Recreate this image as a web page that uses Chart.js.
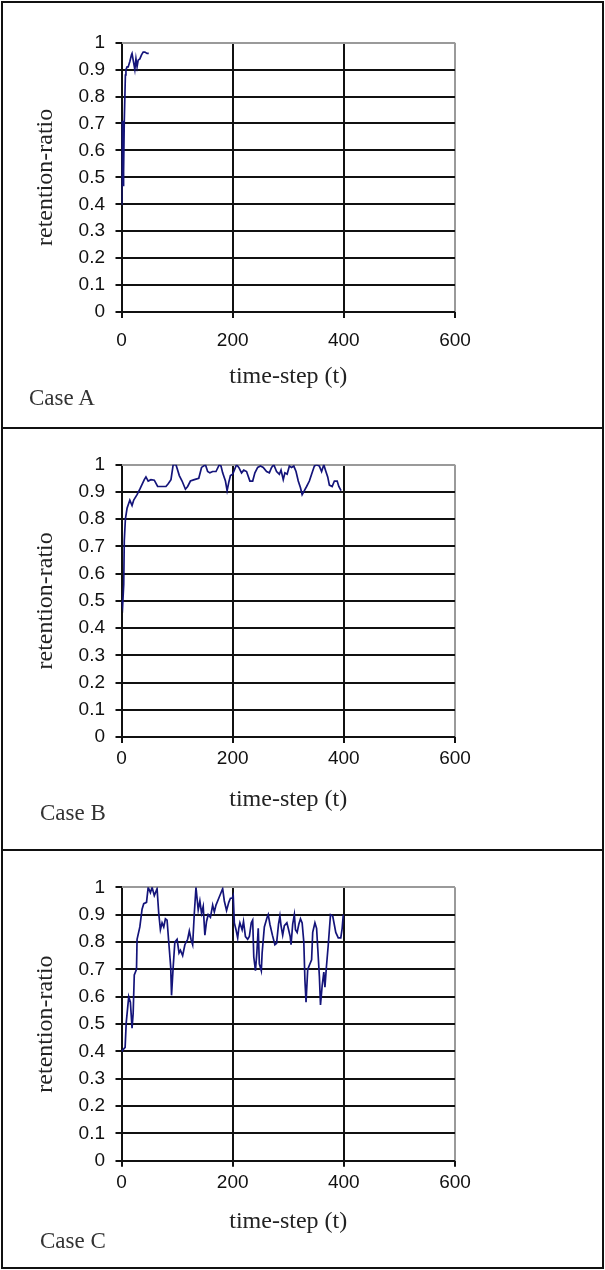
<!DOCTYPE html>
<html>
<head>
<meta charset="utf-8">
<script src="https://cdn.jsdelivr.net/npm/chart.js@4/dist/chart.umd.min.js"></script>
<style>
  html, body { margin: 0; padding: 0; background: #fff; }
  #page { position: relative; width: 605px; height: 1270px; overflow: hidden; }
  .frame { position: absolute; left: 1px; top: 1px; width: 599px; height: 1264px; border: 2px solid #111; }
  .divider { position: absolute; left: 1px; width: 603px; height: 2px; background: #111; }
  canvas { position: absolute; left: 0; }
  .case { position: absolute; font-family: 'Liberation Serif', 'Times New Roman', serif; font-size: 23px; color: #333; line-height: 1; }
</style>
</head>
<body>
<div id="page"></div>
<script>
/* ── data ── */
const xTicks = [0, 200, 400, 600];
const yTicks = [0, 0.1, 0.2, 0.3, 0.4, 0.5, 0.6, 0.7, 0.8, 0.9, 1];

// Case A
const tA   = [0, 0.5, 1, 1.5, 2, 2.5, 3, 3.5, 4, 5,
              6, 7, 8, 10, 12, 15, 18, 19, 21.5, 24,
              26, 28, 30, 33, 36, 39, 42, 46, 49];
const retA = [0.40, 0.71, 0.47, 0.71, 0.49, 0.70, 0.47, 0.71, 0.52, 0.71,
              0.71, 0.88, 0.90, 0.91, 0.91, 0.93, 0.955, 0.96, 0.93, 0.90,
              0.94, 0.91, 0.935, 0.94, 0.955, 0.965, 0.965, 0.96, 0.96];

// Case B
const tB   = [0, 2, 4, 5, 7, 10, 15, 19, 22, 28,
              33, 41, 44, 48, 53, 59, 65, 73, 80, 84,
              89, 93, 98, 104, 109, 115, 119, 124, 131, 139,
              144, 151, 155, 159, 164, 170, 176, 179, 182, 187,
              190, 193, 196, 200, 203, 207, 211, 216, 220, 225,
              231, 236, 240, 245, 250, 255, 261, 266, 270, 274,
              279, 284, 287, 291, 294, 298, 302, 306, 310, 314,
              318, 322, 325, 329, 333, 338, 342, 347, 351, 356,
              360, 364, 367, 371, 374, 379, 383, 388, 391, 395];
const retB = [0.50, 0.48, 0.56, 0.72, 0.80, 0.84, 0.87, 0.85, 0.87, 0.89,
              0.91, 0.945, 0.955, 0.94, 0.945, 0.943, 0.92, 0.92, 0.92, 0.93,
              0.945, 1.0, 1.0, 0.96, 0.94, 0.91, 0.92, 0.94, 0.945, 0.95,
              0.99, 1.0, 0.975, 0.97, 0.975, 0.975, 1.0, 0.995, 0.97, 0.94,
              0.905, 0.935, 0.96, 0.965, 0.98, 1.0, 0.99, 0.97, 0.98, 0.975,
              0.94, 0.94, 0.97, 0.99, 0.995, 0.99, 0.975, 0.97, 0.99, 1.0,
              0.975, 0.965, 0.98, 0.945, 0.97, 0.965, 0.995, 0.99, 0.995, 0.975,
              0.94, 0.915, 0.89, 0.905, 0.92, 0.94, 0.965, 0.995, 1.0, 0.995,
              0.975, 1.0, 0.98, 0.955, 0.925, 0.92, 0.94, 0.94, 0.92, 0.905];

// Case C
const tC   = [0, 6.5, 8.5, 13, 16, 19, 21, 23, 27, 28,
              33, 37, 40, 45, 48, 52, 55, 59, 64, 67,
              70, 73, 76, 79, 82, 85, 88.5, 90, 93, 96,
              100, 103.5, 106, 110, 114, 119, 122, 125, 128, 131,
              134, 138, 141, 144, 147, 150, 153, 156, 160, 164,
              167, 170, 175, 179, 182, 185, 189, 193, 196, 199,
              201, 203, 206, 209, 211, 213, 217, 219.5, 223, 227,
              230, 233.5, 236, 238, 241, 243.5, 246, 248, 251.5, 253,
              257, 262, 264, 267, 271.5, 276, 279, 282.5, 285, 287,
              290, 293, 297.5, 300, 303.5, 305, 308, 311, 313, 316,
              319, 322, 325, 328, 330, 332, 335, 338, 342, 344,
              348, 351, 353, 356, 358, 361, 364, 366, 368.5, 372,
              376, 380, 385.5, 390, 394.5, 397, 399];
const retC = [0.40, 0.415, 0.505, 0.60, 0.58, 0.485, 0.54, 0.68, 0.70, 0.81,
              0.855, 0.92, 0.94, 0.945, 1.0, 0.98, 1.0, 0.97, 0.995, 0.905,
              0.845, 0.87, 0.855, 0.885, 0.88, 0.80, 0.71, 0.605, 0.71, 0.80,
              0.81, 0.76, 0.77, 0.75, 0.79, 0.81, 0.84, 0.81, 0.79, 0.905,
              1.0, 0.917, 0.95, 0.905, 0.93, 0.825, 0.875, 0.90, 0.89, 0.935,
              0.91, 0.935, 0.96, 0.98, 0.995, 0.95, 0.915, 0.945, 0.96, 0.96,
              0.97, 0.87, 0.845, 0.815, 0.85, 0.87, 0.845, 0.875, 0.82, 0.81,
              0.82, 0.87, 0.88, 0.745, 0.695, 0.76, 0.85, 0.72, 0.695, 0.76,
              0.855, 0.89, 0.90, 0.865, 0.825, 0.79, 0.795, 0.865, 0.895, 0.86,
              0.825, 0.86, 0.87, 0.85, 0.82, 0.79, 0.865, 0.90, 0.845, 0.835,
              0.865, 0.885, 0.87, 0.80, 0.66, 0.58, 0.70, 0.715, 0.735, 0.835,
              0.87, 0.85, 0.78, 0.675, 0.57, 0.64, 0.69, 0.635, 0.705, 0.79,
              0.90, 0.895, 0.835, 0.815, 0.815, 0.85, 0.90];

/* ── layout of the three panels (page pixels) ── */
const W = 605;
const PLOT_LEFT = 121.5, PLOT_RIGHT = 455;
const LINE = '#14147a';
const BLACK = '#111';
const GREY = '#9a9a9a';
const TICK_FONT = { family: "'Liberation Sans', Arial, sans-serif", size: 19 };
const TITLE_FONT = { family: "'Liberation Serif', 'Times New Roman', serif", size: 24, lineHeight: 1.2 };

const panels = [
  { name: 'Case A', t: tA, v: retA, top: 0,   h: 428, plotTop: 42.7, plotBottom: 312,   tickY: 340.7, titleY: 377, caseX: 29, caseY: 386 },
  { name: 'Case B', t: tB, v: retB, top: 428, h: 422, plotTop: 36.7, plotBottom: 309,   tickY: 331,   titleY: 372, caseX: 40, caseY: 373 },
  { name: 'Case C', t: tC, v: retC, top: 850, h: 420, plotTop: 37.3, plotBottom: 310.8, tickY: 333,   titleY: 372, caseX: 40, caseY: 379 },
];

function buildPanel(p) {
  const page = document.getElementById('page');
  const canvas = document.createElement('canvas');
  canvas.width = W;
  canvas.height = p.h;
  canvas.style.top = p.top + 'px';
  page.appendChild(canvas);

  const label = document.createElement('div');
  label.className = 'case';
  label.textContent = p.name;
  label.style.left = p.caseX + 'px';
  label.style.top = (p.top + p.caseY) + 'px';
  page.appendChild(label);

  const titleLH = TITLE_FONT.size * TITLE_FONT.lineHeight;
  const tickLH = TICK_FONT.size * 1.2;
  const tickLen = 6;

  const points = p.t.map((t, i) => ({ x: t, y: p.v[i] }));

  new Chart(canvas, {
    type: 'line',
    data: {
      datasets: [{
        data: points,
        borderColor: LINE,
        borderWidth: 1.7,
        pointRadius: 0,
        tension: 0,
        fill: false,
      }],
    },
    options: {
      responsive: false,
      animation: false,
      events: [],
      layout: { padding: { top: p.plotTop, right: W - PLOT_RIGHT, bottom: 0, left: 0 } },
      plugins: { legend: { display: false }, tooltip: { enabled: false } },
      scales: {
        x: {
          type: 'linear',
          min: 0, max: 600,
          afterBuildTicks: s => { s.ticks = xTicks.map(v => ({ value: v })); },
          afterFit: s => { s.height = p.h - p.plotBottom; },
          ticks: {
            font: TICK_FONT,
            color: BLACK,
            padding: p.tickY - p.plotBottom - tickLen - tickLH / 2,
            maxRotation: 0,
          },
          grid: {
            color: c => (c.tick && c.tick.value === 600 ? GREY : BLACK),
            lineWidth: 2,
            tickLength: tickLen,
            tickColor: BLACK,
            tickWidth: 2,
          },
          border: { display: false },
          title: {
            display: true,
            text: 'time-step (t)',
            font: TITLE_FONT,
            color: '#222',
            padding: { top: 0, bottom: p.h - p.titleY - titleLH / 2 },
          },
        },
        y: {
          min: 0, max: 1,
          afterBuildTicks: s => { s.ticks = yTicks.map(v => ({ value: v })); },
          afterFit: s => { s.width = PLOT_LEFT; },
          ticks: {
            font: TICK_FONT,
            color: BLACK,
            padding: 10.5,
            callback: v => String(+v.toFixed(1)),
          },
          grid: {
            color: c => (c.tick && c.tick.value === 1 ? GREY : BLACK),
            lineWidth: 2,
            tickLength: tickLen,
            tickColor: BLACK,
            tickWidth: 2,
          },
          border: { display: false },
          title: {
            display: true,
            text: 'retention-ratio',
            font: TITLE_FONT,
            color: '#222',
            padding: { top: 45.6 - titleLH / 2, bottom: 0 },
          },
        },
      },
    },
  });
}

function drawFrame() {
  const page = document.getElementById('page');
  const frame = document.createElement('div');
  frame.className = 'frame';
  page.appendChild(frame);
  [427, 849].forEach(y => {
    const d = document.createElement('div');
    d.className = 'divider';
    d.style.top = y + 'px';
    page.appendChild(d);
  });
}

panels.forEach(buildPanel);
drawFrame();
</script>
</body>
</html>
